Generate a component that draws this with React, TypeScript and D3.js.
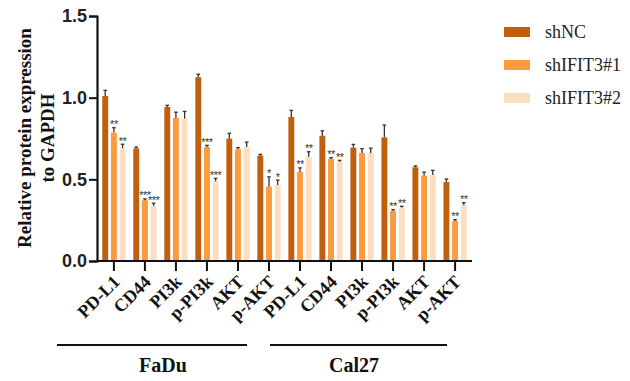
import React, { useRef, useEffect } from "react";
import * as d3 from "d3";

// categories (two cell lines, same proteins)
const proteins = ["PD-L1", "CD44", "PI3k", "p-PI3k", "AKT", "p-AKT"];
const cellLines = ["FaDu", "Cal27"];
const seriesNames = ["shNC", "shIFIT3#1", "shIFIT3#2"];
const colors = ["#C05F0D", "#FB9B3E", "#FDDDBF"];

// values, FaDu then Cal27
const shNC = [1.01, 0.69, 0.943, 1.125, 0.749, 0.645, 0.882, 0.767, 0.694, 0.757, 0.574, 0.484];
const shIFIT3_1 = [0.786, 0.372, 0.876, 0.698, 0.684, 0.455, 0.545, 0.625, 0.661, 0.306, 0.522, 0.245];
const shIFIT3_2 = [0.69, 0.337, 0.871, 0.488, 0.698, 0.465, 0.639, 0.608, 0.661, 0.327, 0.527, 0.341];

// error (sd) values
const errNC = [0.035, 0.008, 0.01, 0.018, 0.033, 0.008, 0.04, 0.03, 0.02, 0.075, 0.008, 0.018];
const err1 = [0.03, 0.008, 0.035, 0.01, 0.01, 0.06, 0.025, 0.008, 0.027, 0.008, 0.022, 0.008];
const err2 = [0.025, 0.017, 0.045, 0.018, 0.03, 0.03, 0.03, 0.008, 0.03, 0.008, 0.028, 0.016];

// significance marks
const sig1 = ["**", "***", "", "***", "", "*", "**", "**", "", "**", "", "**"];
const sig2 = ["**", "***", "", "***", "", "*", "**", "**", "", "**", "", "**"];

const yTicks = [0, 0.5, 1.0, 1.5];

const App = () => {
  const container = useRef(null);
  const width = 630;
  const height = 381;

  useEffect(() => {
    const svg = d3.select(container.current);
    svg.selectAll("*").remove();

    const left = 97;
    const right = 472;
    const top = 16;
    const bottom = 261;

    const labels = cellLines.flatMap((c) => proteins.map((p) => c + "|" + p));
    const values = [shNC, shIFIT3_1, shIFIT3_2];
    const errs = [errNC, err1, err2];
    const sigs = [[], sig1, sig2];

    const x0 = d3
      .scaleBand()
      .domain(labels)
      .range([left, right])
      .paddingInner(0.25)
      .paddingOuter(0.17);

    const x1 = d3
      .scaleBand()
      .domain(seriesNames)
      .range([0, x0.bandwidth()])
      .paddingInner(0.32);

    const y = d3.scaleLinear().domain([0, 1.5]).range([bottom, top]);

    // bars
    seriesNames.forEach((s, si) => {
      const g = svg.append("g").attr("fill", colors[si]);
      labels.forEach((l, i) => {
        const v = values[si][i];
        const bx = x0(l) + x1(s);
        g.append("rect")
          .attr("x", bx)
          .attr("y", y(v))
          .attr("width", x1.bandwidth())
          .attr("height", y(0) - y(v));

        // error bar
        const cx = bx + x1.bandwidth() / 2;
        const et = y(v + errs[si][i]);
        svg
          .append("line")
          .attr("x1", cx)
          .attr("x2", cx)
          .attr("y1", y(v))
          .attr("y2", et)
          .attr("stroke", "#333")
          .attr("stroke-width", 1.3);
        svg
          .append("line")
          .attr("x1", cx - 1.8)
          .attr("x2", cx + 1.8)
          .attr("y1", et)
          .attr("y2", et)
          .attr("stroke", "#333")
          .attr("stroke-width", 1.3);

        const mark = sigs[si][i];
        if (mark) {
          svg
            .append("text")
            .attr("x", cx)
            .attr("y", et + 0.5)
            .attr("text-anchor", "middle")
            .style("font-family", "Arial, 'Liberation Sans', sans-serif")
            .style("font-size", "11px")
            .style("letter-spacing", "-0.5px")
            .style("fill", "#333")
            .text(mark);
        }
      });
    });

    // y axis
    const yAxis = d3
      .axisLeft(y)
      .tickValues(yTicks)
      .tickFormat(d3.format(".1f"))
      .tickSize(8)
      .tickPadding(2);
    const ya = svg.append("g").attr("transform", `translate(${left},0)`).call(yAxis);
    ya.select(".domain").attr("stroke", "#111").attr("stroke-width", 2.2);
    ya.selectAll(".tick line").attr("stroke", "#111").attr("stroke-width", 2);
    ya.selectAll("text")
      .style("font-family", "Arial, 'Liberation Sans', sans-serif")
      .style("font-weight", "bold")
      .style("font-size", "18px")
      .attr("fill", "#222");

    // x axis
    const xAxis = d3.axisBottom(x0).tickSize(10).tickFormat("");
    const xa = svg.append("g").attr("transform", `translate(0,${bottom})`).call(xAxis);
    xa.select(".domain")
      .attr("d", `M${left},0H${right}`)
      .attr("stroke", "#111")
      .attr("stroke-width", 2.2);
    xa.selectAll(".tick line").attr("stroke", "#111").attr("stroke-width", 2);

    // rotated category labels
    labels.forEach((l) => {
      const cx = x0(l) + x0.bandwidth() / 2;
      svg
        .append("text")
        .attr("transform", `translate(${cx + 7},${bottom + 22}) rotate(-45)`)
        .attr("text-anchor", "end")
        .style("font-family", "'Liberation Serif', 'Times New Roman', serif")
        .style("font-weight", "bold")
        .style("font-size", "18px")
        .attr("fill", "#111")
        .text(l.split("|")[1]);
    });

    // group lines + names
    const groups = [
      { name: cellLines[0], x1: 57, x2: 247, tx: 163 },
      { name: cellLines[1], x1: 270, x2: 447, tx: 354 },
    ];
    groups.forEach((g) => {
      svg
        .append("line")
        .attr("x1", g.x1)
        .attr("x2", g.x2)
        .attr("y1", 345)
        .attr("y2", 345)
        .attr("stroke", "#111")
        .attr("stroke-width", 2);
      svg
        .append("text")
        .attr("x", g.tx)
        .attr("y", 372)
        .attr("text-anchor", "middle")
        .style("font-family", "'Liberation Serif', 'Times New Roman', serif")
        .style("font-weight", "bold")
        .style("font-size", "20px")
        .attr("fill", "#111")
        .text(g.name);
    });

    // y axis title
    const yt = svg
      .append("text")
      .attr("transform", "translate(31,138) rotate(-90)")
      .attr("text-anchor", "middle")
      .style("font-family", "'Liberation Serif', 'Times New Roman', serif")
      .style("font-weight", "bold")
      .style("font-size", "19px")
      .attr("fill", "#111");
    yt.append("tspan").attr("x", 0).attr("y", 0).text("Relative protein expression");
    yt.append("tspan").attr("x", 0).attr("y", 0).attr("dy", 23).text("to GAPDH");

    // legend
    const legend = svg.append("g").attr("transform", "translate(504,27)");
    seriesNames.forEach((s, i) => {
      legend
        .append("rect")
        .attr("x", 0)
        .attr("y", i * 33)
        .attr("width", 26)
        .attr("height", 10)
        .attr("fill", colors[i]);
      legend
        .append("text")
        .attr("x", 41)
        .attr("y", i * 33 + 11)
        .style("font-family", "'Liberation Serif', 'Times New Roman', serif")
        .style("font-size", "18px")
        .attr("fill", "#222")
        .text(s);
    });
  }, []);

  return (
    <div style={{ position: "absolute", left: 0, top: 0, width: width, height: height }}>
      <svg ref={container} width={width} height={height} style={{ background: "#fff" }} />
    </div>
  );
};

export default App;
